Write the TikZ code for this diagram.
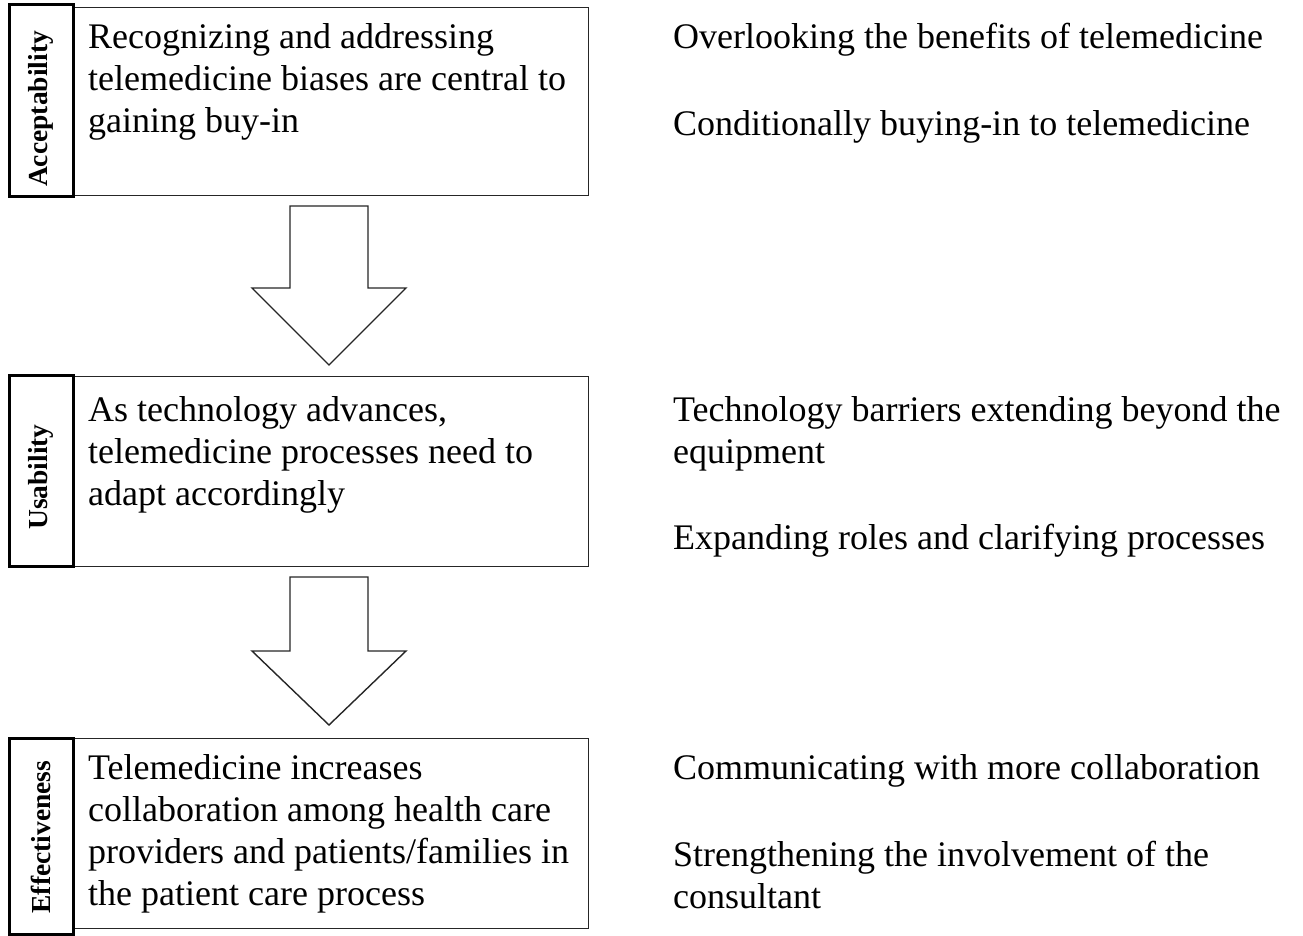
\documentclass[tikz,border=0pt]{standalone}
\usepackage{fontspec}
\setmainfont{Liberation Serif}
\begin{document}
\begin{tikzpicture}[x=1pt,y=-1pt,
  mainbox/.style={draw=black!85, line width=1.4pt, anchor=north west, inner sep=0pt, minimum width=516pt},
  tagbox/.style={draw=black, line width=3pt, rotate=90, inner sep=0pt, minimum height=64pt,
    font=\fontsize{27.5}{30}\selectfont\bfseries},
  bodytext/.style={anchor=base west, align=left, inner sep=0pt, font=\fontsize{36}{42}\selectfont},
  blockarrow/.style={draw=black!85, line width=1.4pt, fill=white, line join=miter}]
\useasboundingbox (0,0) rectangle (1303,936);

% three stage boxes
\node[mainbox, minimum height=188pt] (b1) at (72,7) {};
\node[mainbox, minimum height=190pt] (b2) at (72,376) {};
\node[mainbox, minimum height=190pt] (b3) at (72,738) {};

% vertical stage labels (trailing space lowers the word inside its frame)
\node[tagbox, minimum width=192pt] (t1) at (41,101) {Acceptability\hspace*{16pt}};
\node[tagbox, minimum width=191pt] (t2) at (41,471) {Usability\hspace*{12pt}};
\node[tagbox, minimum width=196pt] (t3) at (41,836) {Effectiveness\hspace*{2pt}};

% box texts (anchored at the baseline of their last line)
\node[bodytext] (x1) at (88,133) {Recognizing and addressing\\telemedicine biases are central to\\gaining buy-in};
\node[bodytext] (x2) at (88,505) {As technology advances,\\telemedicine processes need to\\adapt accordingly};
\node[bodytext] (x3) at (88,905) {Telemedicine increases\\collaboration among health care\\providers and patients/families in\\the patient care process};

% themes on the right
\node[bodytext] (r1) at (673,49) {Overlooking the benefits of telemedicine};
\node[bodytext] (r2) at (673,136) {Conditionally buying-in to telemedicine};
\node[bodytext] (r3) at (673,463) {Technology barriers extending beyond the\\equipment};
\node[bodytext] (r4) at (673,549) {Expanding roles and clarifying processes};
\node[bodytext] (r5) at (673,779) {Communicating with more collaboration};
\node[bodytext] (r6) at (673,908) {Strengthening the involvement of the\\consultant};

% block arrows between stages
\coordinate (a1) at (329,206);
\coordinate (a2) at (329,577);
\draw[blockarrow, shift={(a1)}] (-39,0) -- (39,0) -- (39,82) -- (77,82) -- (0,159) -- (-77,82) -- (-39,82) -- cycle;
\draw[blockarrow, shift={(a2)}] (-39,0) -- (39,0) -- (39,74) -- (77,74) -- (0,148) -- (-77,74) -- (-39,74) -- cycle;
\end{tikzpicture}
\end{document}
